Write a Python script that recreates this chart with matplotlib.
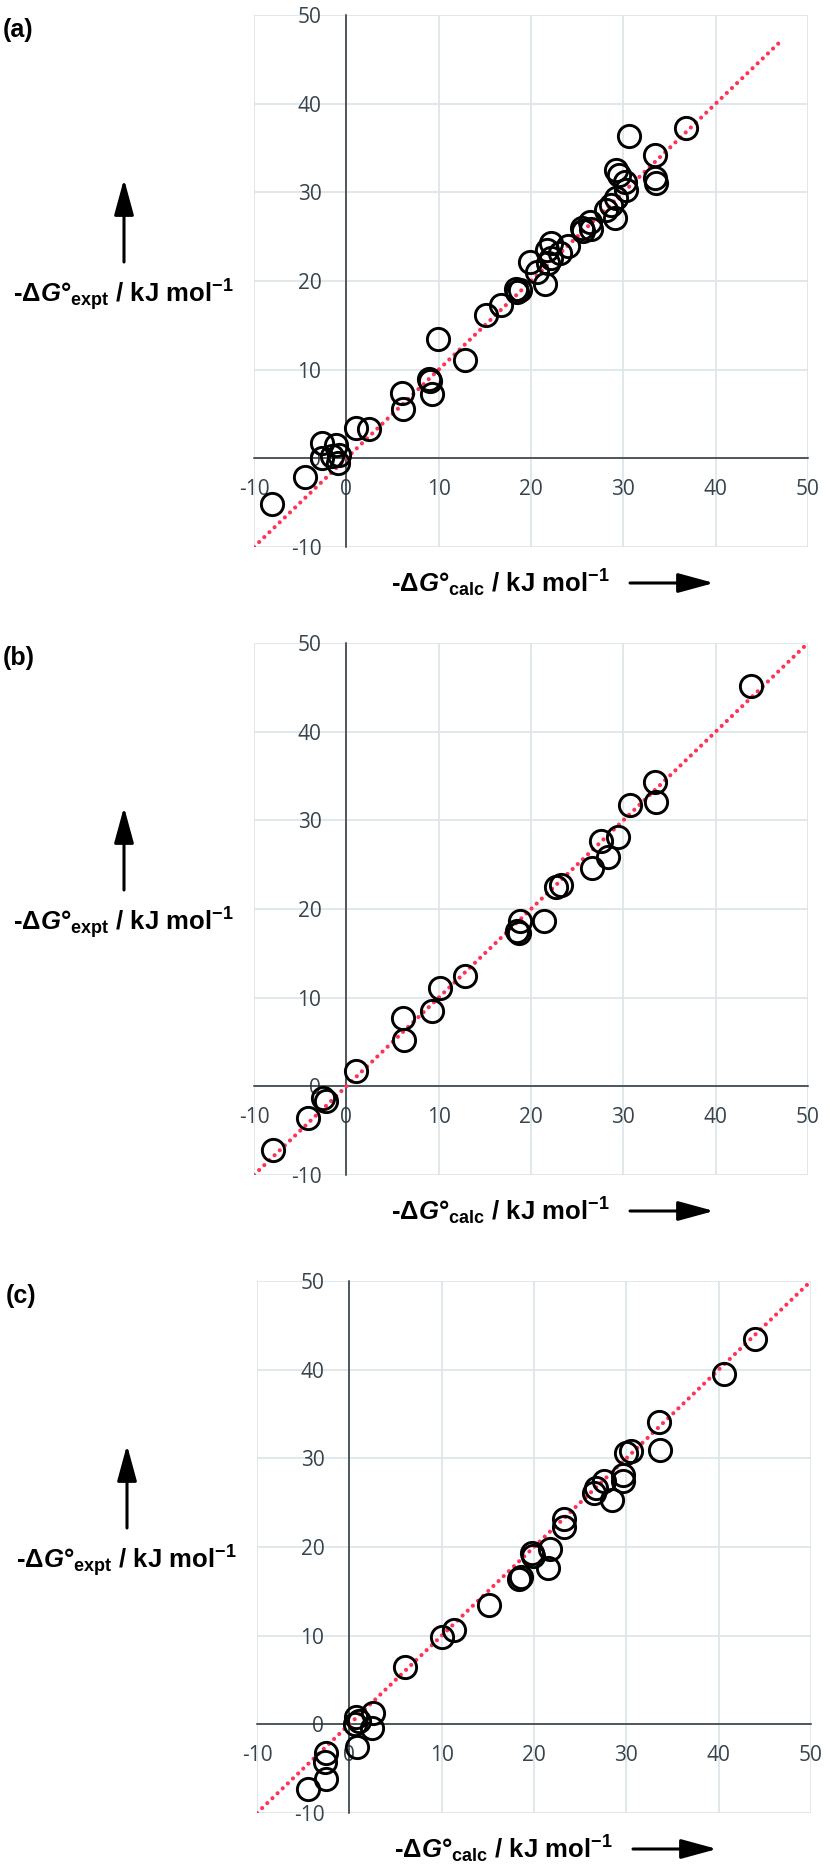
import matplotlib
matplotlib.use('Agg')
import matplotlib.pyplot as plt

W, H = 830, 1871

# panel (a): -dG calc vs -dG expt (kJ/mol)
calc_a = [1.1, 2.5, -2.6, -1.15, -2.6, -1.6, -0.8, -0.9, -4.5, -8.0,
          9.9, 12.8, 8.9, 9.1, 9.3, 6.0, 6.1,
          15.1, 16.7, 18.4, 18.5, 18.8, 21.5, 20.6, 19.9, 21.8, 21.7, 22.2,
          22.2, 23.1, 24.0, 25.5, 25.6, 26.4, 26.5, 28.1, 28.7, 29.1, 29.2,
          29.25, 29.5, 30.15, 30.25, 30.6, 33.4, 33.4, 33.5, 36.8]
expt_a = [3.4, 3.35, 1.75, 1.55, 0.05, 0.25, 0.4, -0.5, -2.05, -5.1,
          13.45, 11.05, 9.0, 8.7, 7.2, 7.4, 5.6,
          16.2, 17.25, 19.1, 18.8, 19.0, 19.7, 21.0, 22.1, 22.0, 23.5, 24.3,
          22.6, 23.15, 23.9, 25.95, 25.6, 26.7, 25.9, 28.0, 28.6, 27.1, 29.4,
          32.55, 32.0, 31.2, 30.3, 36.3, 34.2, 31.6, 31.1, 37.2]

# panel (b)
calc_b = [-7.9, -4.1, -2.5, -2.2, 1.0, 6.1, 6.2, 9.3, 10.1, 12.9, 18.5, 18.7,
          18.8, 21.4, 22.7, 23.2, 26.6, 27.6, 28.3, 29.4, 30.7, 33.4, 33.5, 43.8]
expt_b = [-7.2, -3.6, -1.3, -1.6, 1.7, 7.7, 5.2, 8.5, 11.1, 12.4, 17.5, 17.3,
          18.7, 18.6, 22.5, 22.7, 24.6, 27.7, 25.9, 28.1, 31.7, 34.3, 32.1, 45.1]

# panel (c)
calc_c = [-4.5, -2.5, -2.6, -2.5, 0.8, 0.7, 1.0, 0.6, 2.6, 2.5, 6.0, 10.0, 11.3,
          15.1, 18.4, 18.6, 19.8, 19.9, 21.7, 21.5, 23.2, 23.2, 26.5, 26.7, 27.6,
          28.5, 29.6, 29.6, 30.0, 30.5, 33.5, 33.7, 40.6, 43.9]
expt_c = [-7.3, -6.2, -4.2, -3.2, -2.6, 0.8, 0.4, 0.0, 1.3, -0.4, 6.5, 9.8, 10.6,
          13.5, 16.4, 16.6, 19.3, 19.0, 19.8, 17.6, 23.2, 22.3, 26.1, 26.6, 27.4,
          25.3, 28.1, 27.4, 30.6, 30.8, 34.1, 30.9, 39.5, 43.5]

# y = x reference lines
diag_a = [-10, 47]
diag_b = [-10, 50]
diag_c = [-10, 50]

ticks = [-10, 0, 10, 20, 30, 40, 50]
tick_labels = ['-10', '0', '10', '20', '30', '40', '50']
panel_names = ['(a)', '(b)', '(c)']

plt.rcParams['mathtext.fontset'] = 'custom'
plt.rcParams['mathtext.rm'] = 'Liberation Sans:bold'
plt.rcParams['mathtext.it'] = 'Liberation Sans:italic:bold'
plt.rcParams['mathtext.bf'] = 'Liberation Sans:bold'

ylabel = r'-Δ$\mathit{G}$°$_{\mathrm{expt}}$ / kJ mol$^{\mathrm{-1}}$'
xlabel = r'-Δ$\mathit{G}$°$_{\mathrm{calc}}$ / kJ mol$^{\mathrm{-1}}$'


def fpos(x, y):
    return x / W, 1 - y / H


def arrow(ax, x0, y0, x1, y1):
    ax.annotate('', xy=(x1, H - y1), xytext=(x0, H - y0),
                xycoords='figure pixels', textcoords='figure pixels',
                arrowprops=dict(arrowstyle='-|>,head_length=1.1,head_width=0.3',
                                color='black', lw=2.2, shrinkA=0, shrinkB=0,
                                mutation_scale=20))


def draw_panel(fig, calc, expt, diag, name, dx, dy):
    ax = fig.add_axes([(254 + dx) / W, 1 - (547 + dy) / H, 554 / W, 532 / H])
    ax.set_xlim(-10, 50)
    ax.set_ylim(-10, 50)
    ax.set_xticks(ticks)
    ax.set_xticklabels(tick_labels)
    ax.set_yticks(ticks)
    ax.set_yticklabels(tick_labels)
    ax.grid(True, color='#dce4e8', lw=1.2)
    ax.set_axisbelow(True)
    for line in ax.get_xgridlines() + ax.get_ygridlines():
        line.set_clip_on(False)

    for s in ['top', 'right']:
        ax.spines[s].set_visible(False)
    ax.spines['left'].set_position(('data', 0))
    ax.spines['bottom'].set_position(('data', 0))
    for s in ['left', 'bottom']:
        ax.spines[s].set_color('#263035')
        ax.spines[s].set_linewidth(1.1)

    ax.tick_params(length=0, labelsize=15, labelcolor='#37444d')
    ax.tick_params(axis='y', pad=18)
    ax.tick_params(axis='x', pad=15)
    plt.setp(ax.get_xticklabels() + ax.get_yticklabels(), family='Open Sans')

    ax.plot(diag, diag, color='#ff3358', lw=3.0, linestyle=(0, (0.01, 1.7)),
            dash_capstyle='round', zorder=3)
    ax.plot(calc, expt, 'o', ms=16, mfc='none', mec='black', mew=2.1, zorder=4)

    # labels and arrows outside the axes
    fig.text(*fpos(3 + dx, 30 + dy), name, fontsize=18, fontweight='bold',
             family='Liberation Sans', ha='left', va='center')
    fig.text(*fpos(13 + dx, 302 + dy), ylabel, fontsize=18.5, fontweight='bold',
             family='Liberation Sans', ha='left', va='baseline')
    arrow(ax, 124 + dx, 262 + dy, 124 + dx, 179 + dy)
    fig.text(*fpos(391 + dx, 592 + dy), xlabel, fontsize=18.5, fontweight='bold',
             family='Liberation Sans', ha='left', va='baseline')
    arrow(ax, 630 + dx, 583 + dy, 714 + dx, 583 + dy)


fig = plt.figure(figsize=(W / 100, H / 100), dpi=100)
draw_panel(fig, calc_a, expt_a, diag_a, panel_names[0], 0, 0)
draw_panel(fig, calc_b, expt_b, diag_b, panel_names[1], 0, 628)
draw_panel(fig, calc_c, expt_c, diag_c, panel_names[2], 3, 1266)
fig.savefig('out.png', dpi=100)
